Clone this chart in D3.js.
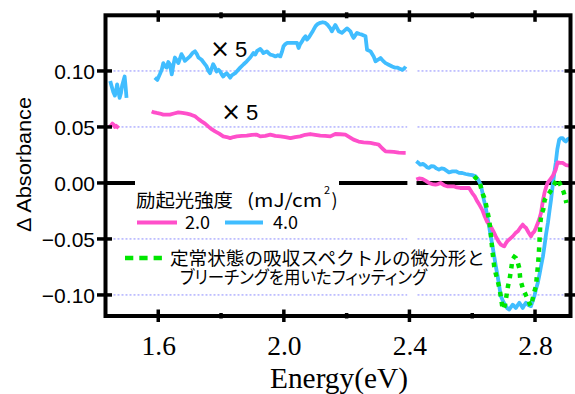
<!DOCTYPE html>
<html>
<head>
<meta charset="utf-8">
<script src="https://cdn.jsdelivr.net/npm/d3@7"></script>
<style>
  html, body { margin: 0; padding: 0; background: #fff; }
  svg { display: block; }
</style>
</head>
<body>
<script>
// ---- Data (ΔAbsorbance vs photon energy) ----
// Pink: 2.0 mJ/cm², blue: 4.0 mJ/cm² (both ×5 below 2.4 eV), null = break between segments
const pinkEnergy = [1.444,1.449,1.454,1.458,1.462,1.466,1.470,1.474,null,
  1.579,1.587,1.595,1.605,1.616,1.627,1.637,1.650,1.664,1.677,1.691,1.704,1.717,1.728,1.738,1.749,1.759,1.770,1.781,1.794,1.807,1.818,1.829,1.840,1.850,1.866,1.882,1.898,1.914,1.925,1.941,1.957,1.973,1.989,2.005,2.021,2.036,2.052,2.068,2.084,2.100,2.116,2.132,2.148,2.164,2.180,2.196,2.209,2.222,2.238,2.254,2.265,2.276,2.290,2.302,2.313,2.324,2.337,2.350,2.366,2.382,2.388,null,
  2.422,2.431,2.441,2.451,2.462,2.472,2.483,2.491,2.499,2.510,2.520,2.530,2.541,2.551,2.562,2.576,2.590,2.600,2.608,2.616,2.624,2.632,2.640,2.648,2.659,2.667,2.675,2.683,2.691,2.697,2.702,2.707,2.712,2.720,2.729,2.737,2.745,2.753,2.761,2.766,2.771,2.779,2.787,2.792,2.798,2.803,2.809,2.814,2.819,2.825,2.830,2.835,2.840,2.848,2.856,2.861,2.866,2.872,2.880,2.888,2.898,2.909];
const pinkValue = [0.050,0.051,0.053,0.052,0.050,0.051,0.050,0.049,null,
  0.0639,0.063,0.0625,0.062,0.061,0.061,0.061,0.062,0.063,0.0625,0.0619,0.061,0.0595,0.057,0.055,0.053,0.0505,0.048,0.046,0.044,0.0416,0.041,0.040,0.041,0.0416,0.042,0.0422,0.043,0.0431,0.0416,0.042,0.0431,0.042,0.0416,0.041,0.040,0.041,0.0416,0.043,0.0437,0.043,0.0422,0.042,0.0416,0.0437,0.0435,0.0431,0.041,0.0387,0.037,0.0363,0.036,0.0357,0.035,0.0342,0.031,0.0282,0.028,0.0277,0.027,0.0268,0.0268,null,
  0.003,0.004,0.0036,0.002,0.000,-0.001,-0.0015,-0.001,0.000,-0.002,-0.003,-0.003,-0.003,-0.004,-0.0045,-0.0045,-0.0045,-0.009,-0.012,-0.0164,-0.020,-0.024,-0.030,-0.035,-0.0387,-0.043,-0.0477,-0.052,-0.055,-0.056,-0.0566,-0.054,-0.052,-0.050,-0.0477,-0.045,-0.0432,-0.040,-0.0372,-0.039,-0.040,-0.044,-0.0477,-0.045,-0.0432,-0.040,-0.0357,-0.032,-0.0268,-0.016,-0.009,-0.004,0.000,0.003,0.006,0.009,0.0119,0.0184,0.018,0.0179,0.016,0.0155];

const blueEnergy = [1.447,1.452,1.457,1.462,1.466,1.469,1.473,1.477,1.481,1.485,1.489,1.493,1.496,1.499,null,
  1.589,1.597,1.605,1.611,1.616,1.622,1.627,1.632,1.637,1.643,1.648,1.653,1.658,1.664,1.669,1.674,1.680,1.685,1.693,1.701,1.709,1.717,1.723,1.728,1.738,1.746,1.754,1.760,1.765,1.770,1.775,1.781,1.786,1.792,1.797,1.802,1.807,1.813,1.818,1.824,1.829,1.834,1.839,1.845,1.850,1.861,1.872,1.882,1.893,1.903,1.909,1.915,1.925,1.930,1.935,1.946,1.951,1.957,1.965,1.973,1.981,1.989,1.994,1.999,2.005,2.010,2.020,2.031,2.042,2.047,2.052,2.058,2.063,2.069,2.074,2.080,2.085,2.093,2.101,2.108,2.116,2.124,2.132,2.140,2.148,2.153,2.158,2.164,2.170,2.175,2.185,2.193,2.201,2.206,2.212,2.217,2.222,2.228,2.233,2.241,2.249,2.260,2.265,2.276,2.286,2.292,2.300,2.308,2.316,2.324,2.334,2.345,2.353,2.361,2.369,2.377,2.383,2.388,null,
  2.422,2.430,2.435,2.443,2.451,2.456,2.462,2.470,2.478,2.486,2.494,2.502,2.510,2.518,2.526,2.537,2.548,2.558,2.568,2.579,2.590,2.600,2.611,2.619,2.627,2.632,2.637,2.643,2.648,2.654,2.659,2.665,2.670,2.675,2.681,2.686,2.691,2.699,2.707,2.712,2.718,2.723,2.729,2.734,2.739,2.745,2.750,2.755,2.761,2.766,2.771,2.779,2.787,2.792,2.798,2.803,2.809,2.814,2.819,2.825,2.830,2.835,2.841,2.846,2.851,2.856,2.861,2.866,2.871,2.877,2.882,2.888,2.893,2.898,2.904,2.911];
const blueValue = [0.091,0.086,0.081,0.078,0.083,0.088,0.082,0.076,0.080,0.087,0.091,0.095,0.086,0.076,null,
  0.094,0.092,0.097,0.101,0.107,0.104,0.103,0.108,0.106,0.097,0.105,0.112,0.110,0.107,0.111,0.115,0.112,0.109,0.111,0.113,0.116,0.1175,0.115,0.112,0.110,0.107,0.104,0.100,0.098,0.102,0.106,0.103,0.0996,0.101,0.0996,0.097,0.095,0.097,0.098,0.096,0.094,0.096,0.097,0.098,0.0996,0.103,0.106,0.1086,0.112,0.116,0.1146,0.118,0.1196,0.118,0.116,0.1175,0.116,0.1146,0.114,0.113,0.114,0.113,0.117,0.122,0.124,0.125,0.125,0.125,0.125,0.1205,0.124,0.1264,0.129,0.131,0.128,0.130,0.1324,0.136,0.140,0.142,0.143,0.1435,0.143,0.141,0.138,0.1354,0.138,0.141,0.138,0.1354,0.134,0.136,0.138,0.137,0.1354,0.132,0.1295,0.132,0.134,0.133,0.1324,0.131,0.119,0.1175,0.113,0.1086,0.110,0.1116,0.109,0.107,0.1056,0.104,0.103,0.103,0.102,0.101,0.102,0.104,null,
  0.0193,0.0175,0.0163,0.017,0.0155,0.014,0.0134,0.015,0.0148,0.013,0.0119,0.013,0.0125,0.011,0.0095,0.0104,0.0104,0.009,0.0089,0.008,0.0074,0.007,0.0059,0.003,-0.0015,-0.008,-0.0149,-0.022,-0.030,-0.039,-0.0477,-0.057,-0.0655,-0.074,-0.0834,-0.092,-0.101,-0.106,-0.110,-0.112,-0.113,-0.111,-0.1087,-0.110,-0.1116,-0.109,-0.107,-0.109,-0.1116,-0.109,-0.107,-0.109,-0.110,-0.106,-0.101,-0.095,-0.089,-0.082,-0.0745,-0.066,-0.0566,-0.046,-0.0357,-0.025,-0.0149,-0.003,0.008,0.0179,0.030,0.0387,0.040,0.040,0.038,0.037,0.039,0.040];

// Green: fit from the derivative of the steady-state absorption spectrum plus bleaching
const fitEnergy = [2.606,2.611,2.617,2.622,2.627,2.632,2.638,2.643,2.648,2.654,2.659,2.664,2.670,2.675,2.680,2.685,2.689,2.693,2.696,2.700,2.705,2.710,2.714,2.719,2.724,2.728,2.734,2.739,2.745,2.750,2.753,2.757,2.761,2.769,2.777,2.783,2.787,2.792,2.797,2.803,2.806,2.809,2.812,2.814,2.817,2.820,2.826,2.831,2.840,2.848,2.856,2.864,2.872,2.878,2.885,2.891,2.896,2.900];
const fitValue = [0.006,0.0045,0.003,0.0014,-0.003,-0.009,-0.013,-0.018,-0.025,-0.033,-0.045,-0.060,-0.0745,-0.081,-0.0863,-0.092,-0.098,-0.105,-0.111,-0.113,-0.108,-0.099,-0.092,-0.086,-0.077,-0.0685,-0.066,-0.067,-0.071,-0.076,-0.086,-0.090,-0.094,-0.099,-0.104,-0.108,-0.110,-0.104,-0.098,-0.092,-0.083,-0.0745,-0.064,-0.0536,-0.0357,-0.028,-0.024,-0.015,-0.011,-0.008,-0.004,0.000,0.0036,0.000,-0.004,-0.008,-0.013,-0.018];

const xMajorTicks = [1.6, 2.0, 2.4, 2.8];
const xMinorTicks = [1.8, 2.2, 2.6];
const yTicks = [0.10, 0.05, 0.00, -0.05, -0.10];
const yGrid = [0.10, 0.05, -0.05, -0.10];
const legendTitle = "励起光強度";
const legendUnit = "(mJ/cm";
const legendLevels = ["2.0", "4.0"];
const fitLabel = ["定常状態の吸収スペクトルの微分形と", "ブリーチングを用いたフィッティング"];

// ---- Layout ----
const W = 575, H = 394;
const pL = 105.5, pR = 570.5, pT = 15.3, pB = 316;
const PINK = "#ff4fca", BLUE = "#40bdff", GREEN = "#00e600";

const svg = d3.select("body").append("svg").attr("width", W).attr("height", H);

const x = d3.scaleLinear().domain([1.432, 2.913]).range([pL, pR]);
const y = d3.scaleLinear().domain([-0.1188, 0.1497]).range([pB, pT]);

svg.append("defs").append("clipPath").attr("id", "plot")
  .append("rect").attr("x", pL).attr("y", pT).attr("width", pR - pL).attr("height", pB - pT);

// dotted horizontal grid
svg.append("g").selectAll("line").data(yGrid).join("line")
  .attr("x1", pL).attr("x2", pR)
  .attr("y1", d => y(d)).attr("y2", d => y(d))
  .attr("stroke", "#8c8cff").attr("stroke-width", 1).attr("stroke-dasharray", "2,2");

// zero line
svg.append("line").attr("x1", pL).attr("x2", pR).attr("y1", y(0)).attr("y2", y(0))
  .attr("stroke", "#000").attr("stroke-width", 4);

// blank behind legend title and at the spectral break
svg.append("rect").attr("x", 135).attr("y", y(0) - 4).attr("width", 204).attr("height", 10).attr("fill", "#fff");
svg.append("rect").attr("x", x(2.3935)).attr("y", pT + 3)
  .attr("width", x(2.4225) - x(2.3935)).attr("height", pB - pT - 6).attr("fill", "#fff");

// spectra
const pts = (es, vs) => es.map((e, i) => [e, vs[i]]);
const line = d3.line().defined(d => d[0] != null && d[1] != null).x(d => x(d[0])).y(d => y(d[1]));
const plot = svg.append("g").attr("clip-path", "url(#plot)");
plot.append("path").attr("d", line(pts(blueEnergy, blueValue)))
  .attr("fill", "none").attr("stroke", BLUE).attr("stroke-width", 3.8).attr("stroke-linejoin", "round");
plot.append("path").attr("d", line(pts(pinkEnergy, pinkValue)))
  .attr("fill", "none").attr("stroke", PINK).attr("stroke-width", 3.8).attr("stroke-linejoin", "round");
plot.append("path").attr("d", line(pts(fitEnergy, fitValue)))
  .attr("fill", "none").attr("stroke", GREEN).attr("stroke-width", 4.5).attr("stroke-dasharray", "4.5,5.5");

// frame
svg.append("rect").attr("x", pL).attr("y", pT).attr("width", pR - pL).attr("height", pB - pT)
  .attr("fill", "none").attr("stroke", "#000").attr("stroke-width", 4);

// ticks (crossing the frame)
const tk = svg.append("g").attr("stroke", "#000").attr("stroke-width", 3.5);
xMajorTicks.forEach(d => {
  tk.append("line").attr("x1", x(d)).attr("x2", x(d)).attr("y1", pT - 5).attr("y2", pT + 6.5);
  tk.append("line").attr("x1", x(d)).attr("x2", x(d)).attr("y1", pB - 6.5).attr("y2", pB + 6);
});
xMinorTicks.forEach(d => {
  tk.append("line").attr("x1", x(d)).attr("x2", x(d)).attr("y1", pT - 3).attr("y2", pT + 3);
  tk.append("line").attr("x1", x(d)).attr("x2", x(d)).attr("y1", pB - 3).attr("y2", pB + 2.5);
});
yTicks.forEach(d => {
  tk.append("line").attr("x1", pL - 8.5).attr("x2", pL + 6.5).attr("y1", y(d)).attr("y2", y(d));
  tk.append("line").attr("x1", pR - 6).attr("x2", pR + 5).attr("y1", y(d)).attr("y2", y(d));
});

// tick labels through d3 axes
const xAxis = svg.append("g").attr("transform", `translate(0,${pB})`)
  .call(d3.axisBottom(x).tickValues(xMajorTicks).tickFormat(d3.format(".1f")).tickSize(0).tickPadding(0));
xAxis.select(".domain").remove();
xAxis.selectAll("text").attr("dy", null).attr("y", 39)
  .attr("font-family", "'Liberation Serif', serif").attr("font-size", 27.5).attr("fill", "#000");

const yAxis = svg.append("g").attr("transform", `translate(${pL},0)`)
  .call(d3.axisLeft(y).tickValues(yTicks).tickFormat(d3.format(".2f")).tickSize(0).tickPadding(0));
yAxis.select(".domain").remove();
yAxis.selectAll("text").attr("x", -10.5).attr("dy", null).attr("y", 8)
  .attr("font-family", "'Liberation Sans', Arial, sans-serif").attr("font-size", 21).attr("fill", "#000");

// axis titles
svg.append("text").attr("x", 270).attr("y", 388)
  .attr("textLength", 138).attr("lengthAdjust", "spacingAndGlyphs")
  .attr("font-family", "'Liberation Serif', serif").attr("font-size", 29).text("Energy(eV)");
svg.append("text").attr("transform", "translate(31,164.5) rotate(-90)").attr("text-anchor", "middle")
  .attr("textLength", 135).attr("lengthAdjust", "spacingAndGlyphs")
  .attr("font-family", "'Liberation Sans', Arial, sans-serif").attr("font-size", 21).text("Δ Absorbance");

// ×5 markers
[[210, 56.5], [221, 120]].forEach(([tx, ty]) => {
  svg.append("text").attr("x", tx).attr("y", ty).attr("font-family", "'DejaVu Sans', sans-serif")
    .attr("font-size", 24).text("×");
  svg.append("text").attr("x", tx + 25).attr("y", ty).attr("font-family", "'Liberation Sans', sans-serif")
    .attr("font-size", 22).text("5");
});

// legend
const JP = "'Noto Sans CJK JP', sans-serif";
const lg = svg.append("g").attr("font-family", JP).attr("fill", "#000");
lg.append("text").attr("x", 136).attr("y", 207).attr("font-size", 18)
  .attr("textLength", 97).attr("lengthAdjust", "spacingAndGlyphs").text(legendTitle);
lg.append("text").attr("x", 247).attr("y", 207).attr("font-size", 18)
  .attr("textLength", 75).attr("lengthAdjust", "spacingAndGlyphs").text(legendUnit);
lg.append("text").attr("x", 324).attr("y", 194).attr("font-size", 11).text("2");
lg.append("text").attr("x", 331.5).attr("y", 207).attr("font-size", 18).text(")");

lg.append("line").attr("x1", 137).attr("x2", 177).attr("y1", 222.5).attr("y2", 222.5)
  .attr("stroke", PINK).attr("stroke-width", 4);
lg.append("text").attr("x", 185).attr("y", 229).attr("font-size", 17.5)
  .attr("textLength", 25).attr("lengthAdjust", "spacingAndGlyphs").text(legendLevels[0]);
lg.append("line").attr("x1", 225).attr("x2", 263).attr("y1", 222.5).attr("y2", 222.5)
  .attr("stroke", BLUE).attr("stroke-width", 4);
lg.append("text").attr("x", 273).attr("y", 229).attr("font-size", 17.5)
  .attr("textLength", 25).attr("lengthAdjust", "spacingAndGlyphs").text(legendLevels[1]);

lg.append("line").attr("x1", 125).attr("x2", 162).attr("y1", 258).attr("y2", 258)
  .attr("stroke", GREEN).attr("stroke-width", 4.5).attr("stroke-dasharray", "8.3,6");
lg.append("text").attr("x", 170).attr("y", 264.5).attr("font-size", 18.5)
  .attr("textLength", 315).attr("lengthAdjust", "spacingAndGlyphs").text(fitLabel[0]);
lg.append("text").attr("x", 180).attr("y", 283.5).attr("font-size", 18)
  .style("font-feature-settings", "'palt'")
  .attr("textLength", 247).attr("lengthAdjust", "spacingAndGlyphs").text(fitLabel[1]);
</script>
</body>
</html>
